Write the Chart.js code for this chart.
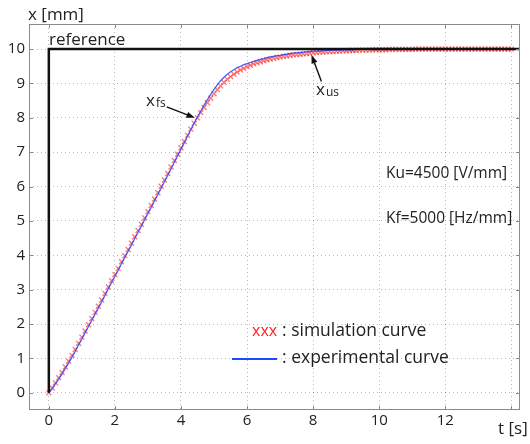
<!DOCTYPE html>
<html>
<head>
<meta charset="utf-8">
<script src="https://cdn.jsdelivr.net/npm/chart.js@4.4.0/dist/chart.umd.min.js"></script>
<style>
 html, body { margin: 0; padding: 0; background: #fff; }
 canvas { display: block; }
</style>
</head>
<body>
<canvas id="stepChart" width="530" height="444"></canvas>
<script>
// sample times [s]
var timeSec = [
 0.0, 0.1, 0.2, 0.3, 0.4, 0.5, 0.6, 0.7, 0.8, 0.9,
 1.0, 1.1, 1.2, 1.3, 1.4, 1.5, 1.6, 1.7, 1.8, 1.9,
 2.0, 2.1, 2.2, 2.3, 2.4, 2.5, 2.6, 2.7, 2.8, 2.9,
 3.0, 3.1, 3.2, 3.3, 3.4, 3.5, 3.6, 3.7, 3.8, 3.9,
 4.0, 4.1, 4.2, 4.3, 4.4, 4.5, 4.6, 4.7, 4.8, 4.9,
 5.0, 5.1, 5.2, 5.3, 5.4, 5.5, 5.6, 5.7, 5.8, 5.9,
 6.0, 6.1, 6.2, 6.3, 6.4, 6.5, 6.6, 6.7, 6.8, 6.9,
 7.0, 7.1, 7.2, 7.3, 7.4, 7.5, 7.6, 7.7, 7.8, 7.9,
 8.0, 8.1, 8.2, 8.3, 8.4, 8.5, 8.6, 8.7, 8.8, 8.9,
 9.0, 9.1, 9.2, 9.3, 9.4, 9.5, 9.6, 9.7, 9.8, 9.9,
 10.0, 10.1, 10.2, 10.3, 10.4, 10.5, 10.6, 10.7, 10.8, 10.9,
 11.0, 11.1, 11.2, 11.3, 11.4, 11.5, 11.6, 11.7, 11.8, 11.9,
 12.0, 12.1, 12.2, 12.3, 12.4, 12.5, 12.6, 12.7, 12.8, 12.9,
 13.0, 13.1, 13.2, 13.3, 13.4, 13.5, 13.6, 13.7, 13.8, 13.9,
 14.0
];

// experimental curve x [mm] (blue line)
var experimental = [
 0, 0.12, 0.26, 0.40, 0.55, 0.71, 0.87, 1.04, 1.21, 1.39,
 1.57, 1.75, 1.93, 2.11, 2.29, 2.47, 2.65, 2.84, 3.03, 3.21,
 3.39, 3.57, 3.76, 3.94, 4.12, 4.30, 4.49, 4.67, 4.85, 5.04,
 5.22, 5.40, 5.59, 5.77, 5.96, 6.14, 6.33, 6.52, 6.71, 6.90,
 7.09, 7.28, 7.47, 7.66, 7.85, 8.03, 8.20, 8.37, 8.53, 8.68,
 8.83, 8.96, 9.08, 9.18, 9.27, 9.34, 9.40, 9.46, 9.50, 9.55,
 9.58, 9.61, 9.64, 9.67, 9.70, 9.72, 9.75, 9.77, 9.79, 9.81,
 9.82, 9.84, 9.85, 9.87, 9.88, 9.89, 9.90, 9.91, 9.92, 9.93,
 9.94, 9.94, 9.95, 9.95, 9.96, 9.96, 9.97, 9.97, 9.97, 9.98,
 9.98, 9.98, 9.98, 9.99, 9.99, 9.99, 9.99, 9.99, 10, 10,
 10, 10, 10, 10, 10, 10, 10, 10, 10, 10,
 10, 10, 10, 10, 10, 10, 10, 10, 10, 10,
 10, 10, 10, 10, 10, 10, 10, 10, 10, 10,
 10, 10, 10, 10, 10, 10, 10, 10, 10, 10,
 10
];

// simulation curve x [mm] (red crosses)
var simulation = [
 0, 0.14, 0.29, 0.44, 0.59, 0.75, 0.92, 1.09, 1.26, 1.44,
 1.62, 1.80, 1.98, 2.16, 2.34, 2.52, 2.70, 2.89, 3.08, 3.26,
 3.44, 3.62, 3.81, 3.99, 4.17, 4.35, 4.54, 4.72, 4.90, 5.09,
 5.27, 5.45, 5.64, 5.82, 6.01, 6.19, 6.38, 6.57, 6.76, 6.94,
 7.13, 7.31, 7.49, 7.67, 7.84, 8.00, 8.15, 8.30, 8.44, 8.57,
 8.70, 8.82, 8.93, 9.03, 9.12, 9.20, 9.27, 9.33, 9.39, 9.44,
 9.49, 9.53, 9.57, 9.60, 9.63, 9.66, 9.69, 9.71, 9.73, 9.75,
 9.77, 9.79, 9.80, 9.82, 9.83, 9.84, 9.85, 9.86, 9.87, 9.88,
 9.89, 9.90, 9.91, 9.91, 9.92, 9.93, 9.93, 9.94, 9.94, 9.95,
 9.95, 9.96, 9.96, 9.96, 9.97, 9.97, 9.97, 9.97, 9.98, 9.98,
 9.98, 9.98, 9.98, 9.99, 9.99, 9.99, 9.99, 9.99, 9.99, 9.99,
 9.99, 10, 10, 10, 10, 10, 10, 10, 10, 10,
 10, 10, 10, 10, 10, 10, 10, 10, 10, 10,
 10, 10, 10, 10, 10, 10, 10, 10, 10, 10,
 10
];

// reference step
var referenceT = [0, 0, 14.26];
var referenceX = [0, 10, 10];

var xTicks = [0, 2, 4, 6, 8, 10, 12, 14];
var yTicks = [0, 1, 2, 3, 4, 5, 6, 7, 8, 9, 10];

var fontFamily = "'Open Sans', 'DejaVu Sans', sans-serif";
var textColor = "#222";

function toPoints(xs, ys) {
 return xs.map(function (x, i) {
  return { x: x, y: ys[i] };
 });
}

function arrow(ctx, x1, y1, x2, y2) {
 var ang = Math.atan2(y2 - y1, x2 - x1);
 var len = 9;
 ctx.beginPath();
 ctx.moveTo(x1, y1);
 ctx.lineTo(x2 - Math.cos(ang) * 6, y2 - Math.sin(ang) * 6);
 ctx.stroke();
 ctx.beginPath();
 ctx.moveTo(x2, y2);
 ctx.lineTo(x2 - len * Math.cos(ang - 0.35), y2 - len * Math.sin(ang - 0.35));
 ctx.lineTo(x2 - len * Math.cos(ang + 0.35), y2 - len * Math.sin(ang + 0.35));
 ctx.closePath();
 ctx.fill();
}

// frame, inside tick marks and all the annotation text
var decorations = {
 id: "decorations",
 afterDraw: function (chart) {
  var ctx = chart.ctx;
  var area = chart.chartArea;
  var xs = chart.scales.x;
  var ys = chart.scales.y;
  ctx.save();

  ctx.strokeStyle = "#8a8a8a";
  ctx.lineWidth = 1;
  ctx.setLineDash([]);
  ctx.strokeRect(area.left + 0.5, area.top + 0.5, area.right - area.left - 1, area.bottom - area.top - 1);
  ctx.beginPath();
  xTicks.forEach(function (v) {
   var px = Math.round(xs.getPixelForValue(v)) + 0.5;
   ctx.moveTo(px, area.bottom);
   ctx.lineTo(px, area.bottom - 4);
   ctx.moveTo(px, area.top);
   ctx.lineTo(px, area.top + 4);
  });
  yTicks.forEach(function (v) {
   var py = Math.round(ys.getPixelForValue(v)) + 0.5;
   ctx.moveTo(area.left, py);
   ctx.lineTo(area.left + 4, py);
   ctx.moveTo(area.right, py);
   ctx.lineTo(area.right - 4, py);
  });
  ctx.stroke();

  ctx.fillStyle = textColor;
  ctx.textBaseline = "alphabetic";
  ctx.textAlign = "left";
  ctx.font = "17px " + fontFamily;
  ctx.fillText("x [mm]", 28, 20);
  ctx.fillText("t [s]", 498, 434);
  ctx.fillText("reference", 49, 45);
  ctx.font = "15.5px " + fontFamily;
  ctx.fillText("Ku=4500 [V/mm]", 386, 178);
  ctx.fillText("Kf=5000 [Hz/mm]", 386, 223);

  // legend
  ctx.font = "16px " + fontFamily;
  ctx.fillStyle = "#ff2020";
  ctx.fillText("xxx", 252, 336);
  ctx.font = "17.5px " + fontFamily;
  ctx.fillStyle = textColor;
  ctx.fillText(": simulation curve", 282, 336);
  ctx.fillText(": experimental curve", 282, 363);
  ctx.strokeStyle = "#1a4cff";
  ctx.lineWidth = 2;
  ctx.beginPath();
  ctx.moveTo(232, 359);
  ctx.lineTo(277, 359);
  ctx.stroke();

  // x_fs and x_us labels
  ctx.font = "17px " + fontFamily;
  ctx.fillText("x", 146, 106);
  ctx.fillText("x", 316, 95);
  ctx.font = "12px " + fontFamily;
  ctx.fillText("fs", 156, 107);
  ctx.fillText("us", 326, 96);

  ctx.strokeStyle = "#111";
  ctx.fillStyle = "#111";
  ctx.lineWidth = 1.4;
  arrow(ctx, xs.getPixelForValue(3.57), ys.getPixelForValue(8.32),
   xs.getPixelForValue(4.42), ys.getPixelForValue(8.0));
  arrow(ctx, xs.getPixelForValue(8.25), ys.getPixelForValue(9.06),
   xs.getPixelForValue(7.95), ys.getPixelForValue(9.83));

  ctx.restore();
 },
};

var gridStyle = {
 color: "rgba(0,0,0,0.28)",
 lineWidth: 1,
 drawTicks: false,
};

new Chart(document.getElementById("stepChart"), {
 type: "scatter",
 data: {
  datasets: [
   {
    label: "reference",
    data: toPoints(referenceT, referenceX),
    showLine: true,
    borderColor: "#111",
    borderWidth: 2.5,
    pointRadius: 0,
   },
   {
    label: "experimental curve",
    data: toPoints(timeSec, experimental),
    showLine: true,
    borderColor: "rgba(40,70,255,0.85)",
    borderWidth: 1.3,
    pointRadius: 0,
   },
   {
    label: "simulation curve",
    data: toPoints(timeSec, simulation),
    showLine: false,
    pointStyle: "crossRot",
    pointRadius: 3.5,
    borderWidth: 1.3,
    borderColor: "rgba(255,30,30,0.62)",
    backgroundColor: "rgba(255,30,30,0.62)",
   },
  ],
 },
 options: {
  responsive: false,
  animation: false,
  devicePixelRatio: 1,
  layout: {
   padding: { top: 24, right: 10, left: 0, bottom: 0 },
  },
  plugins: {
   legend: { display: false },
   tooltip: { enabled: false },
  },
  scales: {
   x: {
    type: "linear",
    min: -0.6,
    max: 14.26,
    afterBuildTicks: function (scale) {
     scale.ticks = xTicks.map(function (v) {
      return { value: v };
     });
    },
    afterFit: function (scale) {
     scale.height = 34;
    },
    ticks: {
     padding: 2,
     color: textColor,
     font: { family: fontFamily, size: 15 },
     maxRotation: 0,
     callback: function (v) {
      return v === 14 ? "" : String(v);
     },
    },
    grid: gridStyle,
    border: { display: false, dash: [1, 3] },
   },
   y: {
    type: "linear",
    min: -0.5,
    max: 10.73,
    afterBuildTicks: function (scale) {
     scale.ticks = yTicks.map(function (v) {
      return { value: v };
     });
    },
    afterFit: function (scale) {
     scale.width = 29;
    },
    ticks: {
     padding: 4,
     color: textColor,
     font: { family: fontFamily, size: 15 },
    },
    grid: gridStyle,
    border: { display: false, dash: [1, 3] },
   },
  },
 },
 plugins: [decorations],
});
</script>
</body>
</html>
